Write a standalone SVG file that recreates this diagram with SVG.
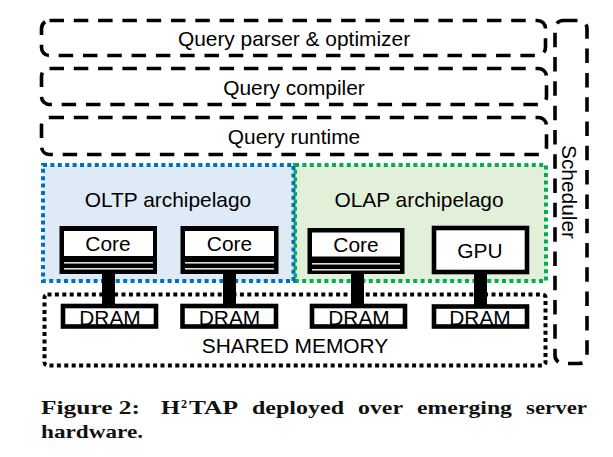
<svg xmlns="http://www.w3.org/2000/svg" width="613" height="457" viewBox="0 0 613 457">
<style>
.dash{fill:none;stroke:#000;stroke-width:3.6;stroke-dasharray:14.5 9.8}
.t{font-family:"Liberation Sans",Arial,sans-serif;font-size:20.9px;fill:#000;text-anchor:middle}
.hw{fill:#fff;stroke:#000;stroke-width:4.6}
.cap{font-family:"Liberation Serif",serif;font-size:19px;font-weight:bold;fill:#111}
</style>
<rect width="613" height="457" fill="#fff"/>
<g id="parser"><rect class="dash" x="41.5" y="20.5" width="504" height="35" rx="8"/><text class="t" x="294" y="46">Query parser &amp; optimizer</text></g>
<g id="compiler"><rect class="dash" x="41.5" y="68.500" width="505" height="36" rx="8"/><text class="t" x="294" y="94.500">Query compiler</text></g>
<g id="runtime"><rect class="dash" x="41.500" y="117.500" width="505" height="37" rx="8"/><text class="t" x="294" y="143.500">Query runtime</text></g>
<g id="scheduler"><rect class="dash" x="555" y="20.500" width="32" height="343" rx="8"/><text class="t" transform="translate(562 192) rotate(90)" x="0" y="0">Scheduler</text></g>
<g id="olap"><rect x="295" y="165" width="251" height="116" fill="#e2efd9" stroke="#00b050" stroke-width="4" stroke-dasharray="4 3.400"/><text class="t" x="419" y="206.500">OLAP archipelago</text></g>
<g id="oltp"><rect x="43" y="165" width="250.500" height="116" fill="#deeaf6" stroke="#0070c0" stroke-width="4" stroke-dasharray="4 3.400"/><text class="t" x="168" y="206.500">OLTP archipelago</text></g>
<g id="shared-memory"><rect x="44.500" y="294.500" width="501" height="71" rx="3" fill="none" stroke="#000" stroke-width="4" stroke-dasharray="4 3.400"/><text class="t" x="295" y="352.500">SHARED MEMORY</text></g>
<g id="connectors" fill="#000">
<rect x="102" y="272" width="13" height="33"/><rect x="223" y="274" width="13" height="31"/><rect x="351" y="274" width="13" height="31"/><rect x="474" y="272" width="13" height="33"/>
</g>
<g id="core1"><rect x="59.500" y="226" width="97.500" height="48" fill="#000"/><rect x="64" y="231" width="89" height="25" fill="#fff"/><rect x="64" y="262" width="89" height="1.600" fill="#ddd"/><rect x="64" y="268" width="89" height="1.600" fill="#ddd"/><text class="t" x="108" y="251">Core</text></g>
<g id="core2"><rect x="180.500" y="226" width="98" height="48" fill="#000"/><rect x="185" y="231" width="89" height="25" fill="#fff"/><rect x="185" y="262" width="89" height="1.600" fill="#ddd"/><rect x="185" y="268" width="89" height="1.600" fill="#ddd"/><text class="t" x="229.500" y="251">Core</text></g>
<g id="core3"><rect x="307.500" y="228" width="97" height="46" fill="#000"/><rect x="312" y="232.500" width="88" height="24" fill="#fff"/><rect x="312" y="263" width="88" height="1.600" fill="#ddd"/><rect x="312" y="269" width="88" height="1.600" fill="#ddd"/><text class="t" x="356" y="252">Core</text></g>
<g id="gpu"><rect class="hw" x="434" y="228" width="93" height="44"/><text class="t" x="480" y="258">GPU</text></g>
<g id="dram1"><rect class="hw" x="63" y="306" width="93" height="20.500"/><text class="t" x="110" y="325">DRAM</text></g>
<g id="dram2"><rect class="hw" x="182.500" y="306" width="93.500" height="20.500"/><text class="t" x="229.500" y="325">DRAM</text></g>
<g id="dram3"><rect class="hw" x="312" y="306" width="93" height="20.500"/><text class="t" x="359" y="325">DRAM</text></g>
<g id="dram4"><rect class="hw" x="434" y="306.500" width="93" height="20"/><text class="t" x="480" y="325">DRAM</text></g>
<g id="caption"><text class="cap" x="41" y="414" textLength="99" lengthAdjust="spacingAndGlyphs">Figure 2:</text><text class="cap" x="161" y="414" textLength="19" lengthAdjust="spacingAndGlyphs">H</text><text class="cap" x="181" y="408" style="font-size:12px">2</text><text class="cap" x="189" y="414" textLength="49" lengthAdjust="spacingAndGlyphs">TAP</text><text class="cap" x="252" y="414" textLength="92" lengthAdjust="spacingAndGlyphs">deployed</text><text class="cap" x="358" y="414" textLength="45" lengthAdjust="spacingAndGlyphs">over</text><text class="cap" x="417" y="414" textLength="95" lengthAdjust="spacingAndGlyphs">emerging</text><text class="cap" x="526" y="414" textLength="61" lengthAdjust="spacingAndGlyphs">server</text><text class="cap" x="41" y="438" textLength="102" lengthAdjust="spacingAndGlyphs">hardware.</text></g>
</svg>
